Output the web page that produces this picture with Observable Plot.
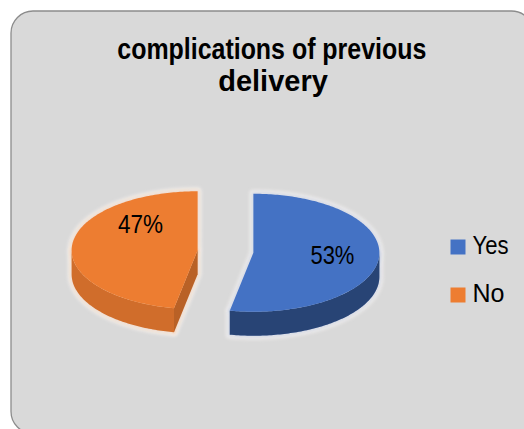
<!DOCTYPE html>
<html>
<head>
<meta charset="utf-8">
<script src="https://cdn.jsdelivr.net/npm/d3@7"></script>
<script src="https://cdn.jsdelivr.net/npm/@observablehq/plot@0.6"></script>
<style>
  html, body { margin: 0; padding: 0; background: #ffffff; }
  #chart { width: 524px; height: 429px; overflow: hidden; }
</style>
</head>
<body>
<div id="chart"></div>
<script>
// ---- data ----
const categories = ["Yes", "No"];
const values = [53, 47];
const percentLabels = ["53%", "47%"];
const titleLines = ["complications of previous", "delivery"];
const colors = ["#4472C4", "#ED7D31"];

// ---- layout (not data) ----
const W = 524, H = 429;
const pie = { cx: 225, cy: 251, rx: 126, ry: 59, depth: 24, explode: 28 };
const labelR = 0.63;
const labelNudge = { Yes: [0, 0], No: [22, -22] };
const legend = { x: 457.5, y0: 246.5, gap: 48, r: 15 / Math.sqrt(Math.PI), textX: 472, textDy: -1.5 };
const textWidths = {
  "complications of previous": 309,
  "53%": 44, "47%": 45, "Yes": 36, "No": 32
};

// ---- geometry from data ----
const arcs = d3.pie().sort(null).value(d => d)(values);
const polys = [];   // {id, cat, part, x, y}
const labelData = [];
const step = Math.PI / 180;

function pt(c, a, dz = 0) {
  return [c[0] + pie.rx * Math.sin(a), c[1] - pie.ry * Math.cos(a) + dz];
}
function arcPts(c, a0, a1, dz = 0) {
  const n = Math.max(2, Math.ceil((a1 - a0) / step));
  return d3.range(n + 1).map(i => pt(c, a0 + (a1 - a0) * i / n, dz));
}

arcs.forEach((a, i) => {
  const cat = categories[i];
  const mid = (a.startAngle + a.endAngle) / 2;
  const c = [pie.cx + pie.explode * Math.sin(mid), pie.cy - pie.explode * (pie.ry / pie.rx) * Math.cos(mid)];
  const push = (part, pts) => pts.forEach(([x, y]) => polys.push({ id: cat + "-" + part, cat, part, x, y }));

  // outer visible side (front half of ellipse)
  const s = Math.max(a.startAngle, Math.PI / 2), e = Math.min(a.endAngle, 3 * Math.PI / 2);
  if (s < e) {
    push("side", [...arcPts(c, s, e), ...arcPts(c, s, e, pie.depth).reverse()]);
  }
  // radial faces
  if (Math.sin(a.startAngle) < -1e-6) {
    const p = pt(c, a.startAngle);
    push("face", [c, p, [p[0], p[1] + pie.depth], [c[0], c[1] + pie.depth]]);
  }
  if (Math.sin(a.endAngle) > 1e-6) {
    const p = pt(c, a.endAngle);
    push("face", [c, p, [p[0], p[1] + pie.depth], [c[0], c[1] + pie.depth]]);
  }
  // top face
  push("top", [c, ...arcPts(c, a.startAngle, a.endAngle)]);

  const lp = [c[0] + labelR * pie.rx * Math.sin(mid), c[1] - labelR * pie.ry * Math.cos(mid)];
  labelData.push({ cat, label: percentLabels[i], x: lp[0] + labelNudge[cat][0], y: lp[1] + labelNudge[cat][1] });
});

const legendData = categories.map((cat, i) => ({ cat, y: legend.y0 + i * legend.gap }));

const sides = polys.filter(d => d.part !== "top");
const tops = polys.filter(d => d.part === "top");

const lineOpts = { x: "x", y: "y", z: "id", curve: "linear-closed" };

const chart = Plot.plot({
  width: W, height: H, margin: 0,
  x: { type: "identity", axis: null },
  y: { type: "identity", axis: null },
  color: { domain: categories, range: colors },
  style: { background: "transparent", fontFamily: "'Liberation Sans', Arial, sans-serif", color: "#000" },
  marks: [
    Plot.frame({ fill: "#d9d9d9", stroke: "#8c8c8c", strokeWidth: 1.3, rx: 22,
                 insetLeft: 10.5, insetTop: 10.5, insetRight: -9, insetBottom: -4 }),
    // soft glow around slices
    Plot.line(polys, { ...lineOpts, stroke: "#f6f3f0", strokeWidth: 8, strokeOpacity: 0.8, strokeLinejoin: "round", fill: "none" }),
    Plot.line(polys, { ...lineOpts, stroke: "cat", strokeWidth: 4, strokeOpacity: 0.15, strokeLinejoin: "round", fill: "none" }),
    // sides
    Plot.line(sides, { ...lineOpts, fill: "cat", stroke: "none" }),
    Plot.line(sides.filter(d => d.cat === "Yes"), { ...lineOpts, fill: "#000", fillOpacity: 0.4, stroke: "none" }),
    Plot.line(sides.filter(d => d.cat === "No" && d.part === "side"), { ...lineOpts, fill: "#000", fillOpacity: 0.12, stroke: "none" }),
    Plot.line(sides.filter(d => d.cat === "No" && d.part === "face"), { ...lineOpts, fill: "#000", fillOpacity: 0.22, stroke: "none" }),
    // tops
    Plot.line(tops, { ...lineOpts, fill: "cat", stroke: "none" }),
    // labels
    Plot.text(labelData, { x: "x", y: "y", text: "label", fontSize: 25, fill: "#000" }),
    // title
    Plot.text([titleLines[0]], { frameAnchor: "top", text: d => d, dx: 9.3, dy: 37.7, lineAnchor: "top", fontSize: 29, fontWeight: "bold", fill: "#000" }),
    Plot.text([titleLines[1]], { frameAnchor: "top", text: d => d, dx: 10.5, dy: 70, lineAnchor: "top", fontSize: 29, fontWeight: "bold", fill: "#000" }),
    // legend
    Plot.dot(legendData, { x: () => legend.x, y: "y", symbol: "square", r: legend.r, fill: "cat", stroke: "none" }),
    Plot.text(legendData, { x: () => legend.textX, y: "y", dy: legend.textDy, text: "cat", textAnchor: "start", fontSize: 25, fill: "#000" })
  ]
});

// soften the glow
const svg = d3.select(chart);
svg.insert("defs", ":first-child").append("filter").attr("id", "soft")
  .attr("x", "-20%").attr("y", "-20%").attr("width", "140%").attr("height", "140%")
  .append("feGaussianBlur").attr("stdDeviation", 1.6);
svg.selectAll("g[stroke='#f6f3f0'], g[stroke-opacity='0.15']").attr("filter", "url(#soft)");

svg.selectAll("text").each(function () {
  const w = textWidths[this.textContent];
  if (w) {
    this.setAttribute("textLength", w);
    this.setAttribute("lengthAdjust", "spacingAndGlyphs");
  }
});

document.getElementById("chart").appendChild(chart);
</script>
</body>
</html>
